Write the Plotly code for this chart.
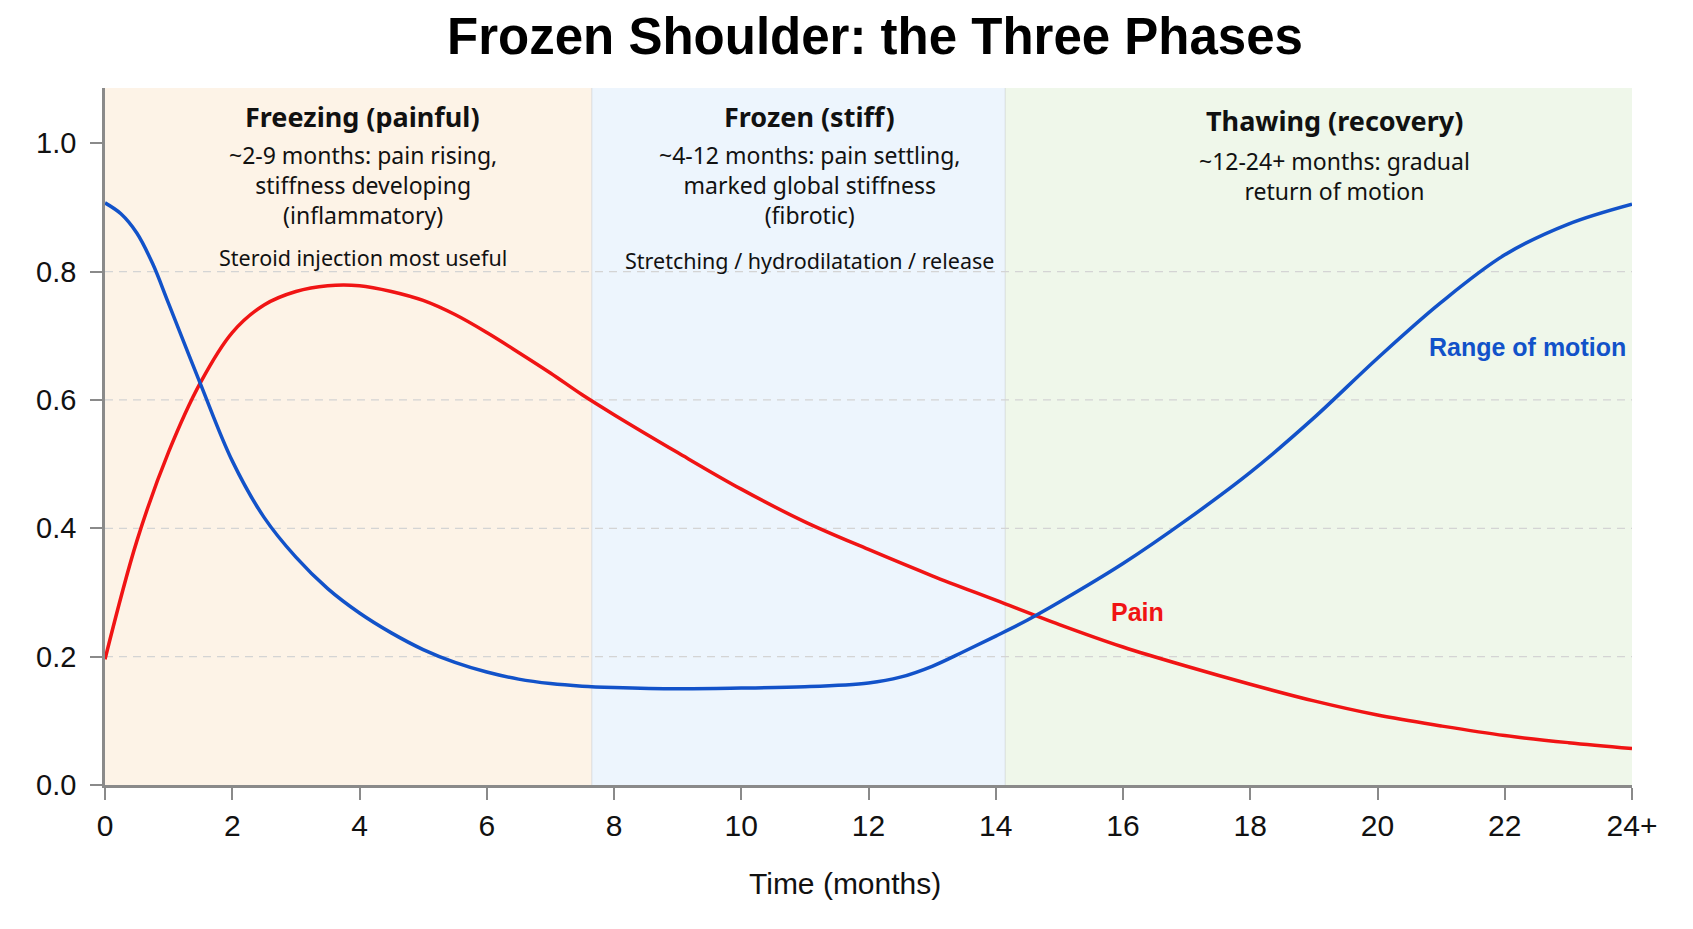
import plotly.graph_objects as go

# ---- data ----
pain_months = [0, 0.5, 1.0, 1.5, 2.0, 2.5, 3.0, 3.5, 4.0, 4.5, 5.0, 5.5, 6.0, 6.5, 7.0, 7.5,
               8, 9, 10, 11, 12, 13, 14, 15, 16, 17, 18, 19, 20, 21, 22, 23, 24]
pain = [0.196, 0.380, 0.519, 0.627, 0.705, 0.748, 0.769, 0.778, 0.778, 0.769, 0.755, 0.733, 0.705,
        0.674, 0.642, 0.608, 0.577, 0.518, 0.461, 0.410, 0.367, 0.326, 0.288, 0.250, 0.215, 0.185,
        0.157, 0.131, 0.109, 0.092, 0.077, 0.066, 0.057]

rom_months = [0, 0.25, 0.5, 0.75, 1.0, 1.5, 2.0, 2.5, 3.0, 3.5, 4.0, 4.5, 5.0, 5.5, 6.0, 6.5, 7.0, 7.5,
              8, 9, 10, 11, 12, 12.5, 13, 13.5, 14, 14.5, 15, 16, 17, 18, 19, 20, 21, 22, 23, 24]
rom = [0.907, 0.890, 0.860, 0.812, 0.750, 0.625, 0.505, 0.417, 0.355, 0.306, 0.268, 0.237, 0.211,
       0.191, 0.176, 0.165, 0.158, 0.154, 0.152, 0.150, 0.151, 0.153, 0.159, 0.168, 0.185, 0.208,
       0.232, 0.257, 0.285, 0.345, 0.413, 0.487, 0.572, 0.665, 0.752, 0.826, 0.874, 0.905]

phase_edges = [0, 7.65, 14.15, 24]
phase_names = ["Freezing (painful)", "Frozen (stiff)", "Thawing (recovery)"]
phase_desc = ["~2-9 months: pain rising,<br>stiffness developing<br>(inflammatory)",
              "~4-12 months: pain settling,<br>marked global stiffness<br>(fibrotic)",
              "~12-24+ months: gradual<br>return of motion"]
phase_treat = ["Steroid injection most useful", "Stretching / hydrodilatation / release", ""]
phase_label_x = [4.05, 11.07, 19.33]
phase_colors = ["#fdf3e7", "#edf5fd", "#eff7ea"]

x_tickvals = [0, 2, 4, 6, 8, 10, 12, 14, 16, 18, 20, 22, 24]
x_ticktext = ["0", "2", "4", "6", "8", "10", "12", "14", "16", "18", "20", "22", "24+"]
y_tickvals = [0.0, 0.2, 0.4, 0.6, 0.8, 1.0]
grid_vals = [0.2, 0.4, 0.6, 0.8]

NARROW = "Liberation Sans Narrow, Arial Narrow, Liberation Sans, sans-serif"
TEXTF = "Noto Sans, Open Sans, sans-serif"
RED = "#f01414"
BLUE = "#1252c9"

fig = go.Figure()

shapes = []
for i in range(3):
    shapes.append(dict(type="rect", xref="x", yref="paper", x0=phase_edges[i], x1=phase_edges[i + 1],
                       y0=0, y1=1, fillcolor=phase_colors[i], line=dict(width=0), layer="below"))
for e in phase_edges[1:-1]:
    shapes.append(dict(type="line", xref="x", yref="paper", x0=e, x1=e, y0=0, y1=1,
                       line=dict(color="rgba(0,0,0,0.07)", width=1.5), layer="below"))
for g in grid_vals:
    shapes.append(dict(type="line", xref="paper", yref="y", x0=0, x1=1, y0=g, y1=g,
                       line=dict(color="#d4d4d4", width=1.3, dash="8px,6px"), layer="below"))

fig.add_trace(go.Scatter(x=pain_months, y=pain, mode="lines", name="Pain",
                         line=dict(color=RED, width=3.5, shape="spline", smoothing=1.0)))
fig.add_trace(go.Scatter(x=rom_months, y=rom, mode="lines", name="Range of motion",
                         line=dict(color=BLUE, width=3.5, shape="spline", smoothing=1.0)))

def py(px):
    return (785 - px) / 696.5

annotations = []
title_y = [116.6, 116.6, 121]
desc_y = [185.2, 185.2, 176]
treat_y = [258, 261, None]
for i in range(3):
    annotations.append(dict(x=phase_label_x[i], y=py(title_y[i]), xref="x", yref="paper",
                            text="<b>" + phase_names[i] + "</b>", showarrow=False,
                            xanchor="center", yanchor="middle",
                            font=dict(family=TEXTF, size=27, color="#111111")))
    annotations.append(dict(x=phase_label_x[i], y=py(desc_y[i]), xref="x", yref="paper",
                            text=phase_desc[i], showarrow=False, xanchor="center", yanchor="middle",
                            font=dict(family=TEXTF, size=23, color="#111111")))
    if phase_treat[i]:
        annotations.append(dict(x=phase_label_x[i], y=py(treat_y[i]), xref="x", yref="paper",
                                text=phase_treat[i], showarrow=False, xanchor="center", yanchor="middle",
                                font=dict(family=TEXTF, size=21.5, color="#111111")))

annotations.append(dict(x=23.93, y=0.682, xref="x", yref="y", text="<b>Range of motion</b>",
                        showarrow=False, xanchor="right", yanchor="middle",
                        font=dict(family=NARROW, size=25, color=BLUE)))
annotations.append(dict(x=15.78, y=0.27, xref="x", yref="y", text="<b>Pain</b>",
                        showarrow=False, xanchor="left", yanchor="middle",
                        font=dict(family=NARROW, size=25, color=RED)))
# x-axis title
annotations.append(dict(x=(845 - 105) / (1631.4 - 105), y=py(883), xref="paper", yref="paper",
                        text="Time (months)", showarrow=False, xanchor="center", yanchor="middle",
                        font=dict(family=NARROW, size=30, color="#111111")))

fig.update_layout(
    width=1693, height=929,
    margin=dict(l=105, r=61, t=88, b=144),
    paper_bgcolor="white", plot_bgcolor="white",
    showlegend=False,
    title=dict(text="<b>Frozen Shoulder: the Three Phases</b>", x=875 / 1693, xref="container",
               xanchor="center", y=1 - 36 / 929, yref="container", yanchor="middle",
               font=dict(family=NARROW, size=51, color="#000000")),
    shapes=shapes,
    annotations=annotations,
    xaxis=dict(range=[0, 24], tickvals=x_tickvals, ticktext=x_ticktext, showgrid=False, zeroline=False,
               showline=True, linecolor="#8a8a8a", linewidth=2.5, ticks="outside", ticklen=12,
               tickwidth=2, tickcolor="#8a8a8a", tickfont=dict(family=NARROW, size=30, color="#111111")),
    yaxis=dict(range=[0, 1.086], tickvals=y_tickvals, tickformat=".1f", showgrid=False, zeroline=False,
               showline=True, linecolor="#8a8a8a", linewidth=2.5, ticks="outside", ticklen=12,
               tickwidth=2, tickcolor="#8a8a8a", tickfont=dict(family=NARROW, size=29, color="#111111"),
               ticklabelstandoff=8),
)

fig.write_html("out.html")
